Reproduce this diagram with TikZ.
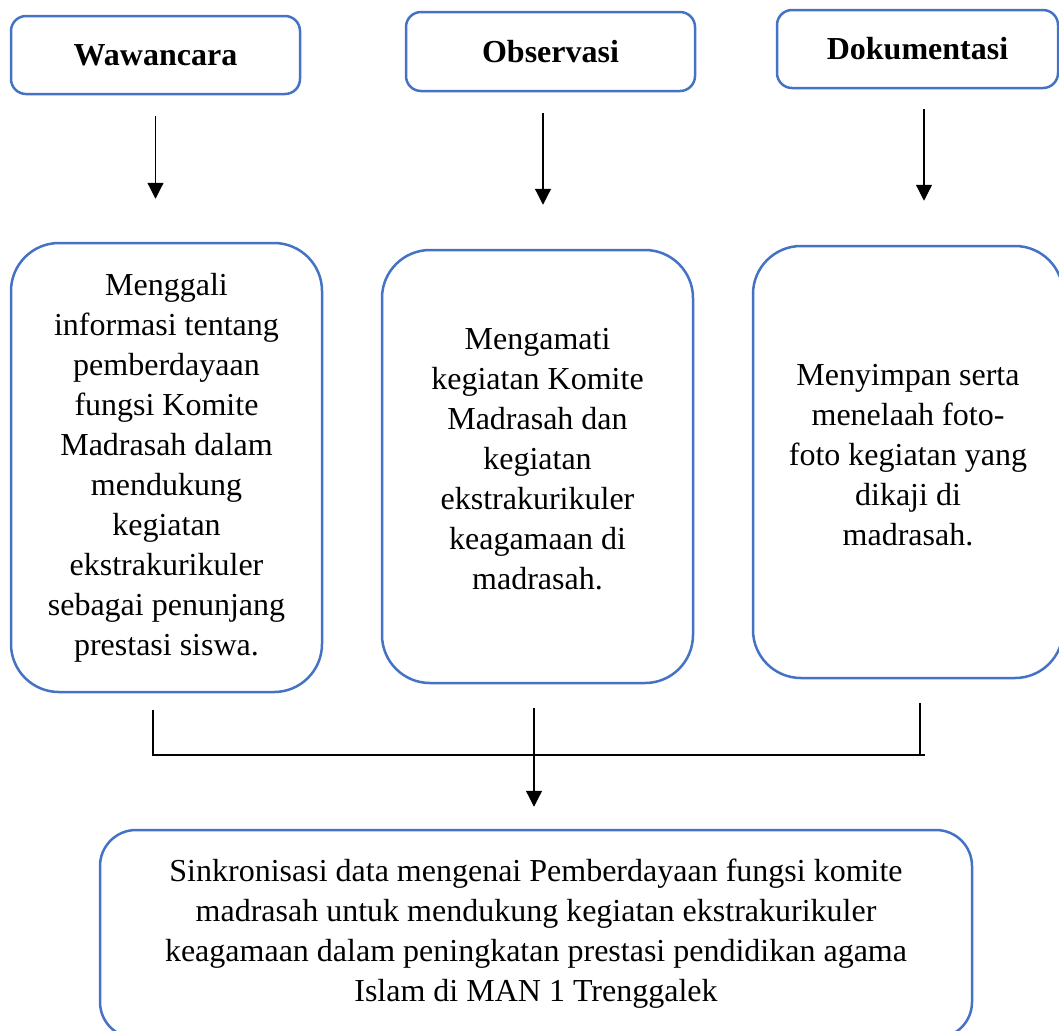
\documentclass[tikz,border=0pt]{standalone}
\usepackage{fontspec}
\setmainfont{Liberation Serif}
\usetikzlibrary{arrows.meta}
\definecolor{boxblue}{HTML}{4472C4}
% invisible strut that deepens the last line, lifting a centred block
\newcommand{\liftblock}[1]{\rule[-#1]{0pt}{#1}}
\begin{document}
\begin{tikzpicture}[x=0.5pt,y=-0.5pt,
  font=\fontsize{16pt}{20pt}\selectfont,
  headbox/.style={draw=boxblue,line width=1.25pt,rounded corners=7.5pt,
    font=\fontsize{16pt}{20pt}\selectfont\bfseries,inner sep=0pt},
  bodybox/.style={draw=boxblue,line width=1.25pt,rounded corners=24pt,
    align=center,inner sep=0pt},
  flow/.style={-{Triangle[length=8pt,width=8pt]},line width=0.6pt},
  joint/.style={line width=0.6pt}]
\useasboundingbox (0,0) rectangle (1059,1030);

% method headings
\node[headbox,minimum width=144.5pt,minimum height=39pt] (w) at (155.5,55) {Wawancara};
\node[headbox,minimum width=144.5pt,minimum height=39.5pt] (o) at (550.5,51.5) {Observasi};
\node[headbox,minimum width=140.5pt,minimum height=39pt] (d) at (917.5,49) {Dokumentasi};

% descriptions
\node[bodybox,minimum width=155.5pt,minimum height=224.5pt] (m1) at (166.5,467.5)
  {Menggali\\informasi tentang\\pemberdayaan\\fungsi Komite\\Madrasah dalam\\mendukung\\kegiatan\\ekstrakurikuler\\sebagai penunjang\\prestasi siswa.};
\node[bodybox,minimum width=155.5pt,minimum height=216.5pt] (m2) at (537.5,466.5)
  {Mengamati\\kegiatan Komite\\Madrasah dan\\kegiatan\\ekstrakurikuler\\keagamaan di\\madrasah.\liftblock{8pt}};
\node[bodybox,minimum width=155pt,minimum height=216pt] (m3) at (908,462)
  {Menyimpan serta\\menelaah foto-\\foto kegiatan yang\\dikaji di\\madrasah.\liftblock{7pt}};

% synthesis
\node[bodybox,rounded corners=18pt,minimum width=436pt,minimum height=104pt] (s) at (536,934)
  {Sinkronisasi data mengenai Pemberdayaan fungsi komite\\madrasah untuk mendukung kegiatan ekstrakurikuler\\keagamaan dalam peningkatan prestasi pendidikan agama\\Islam di MAN 1 Trenggalek};

% heading arrows
\draw[flow,shorten <=10.5pt,shorten >=21.5pt] (w.south) -- (w.south |- m1.north);
\draw[flow,shorten <=10.5pt,shorten >=22pt] ([xshift=-3.75pt]o.south) -- ([xshift=-3.75pt]o.south |- m2.north);
\draw[flow,shorten <=10pt,shorten >=22pt] ([xshift=3.25pt]d.south) -- ([xshift=3.25pt]d.south |- m3.north);

% joining bar
\coordinate (jl) at (153,755);
\coordinate (jm) at (534,755);
\coordinate (jr) at (920,755);
\draw[joint,shorten <=8.5pt] (m1.south -| jl) -- (jl);
\draw[joint,shorten <=12pt] (m3.south -| jr) -- (jr);
\draw[line width=0.85pt] ([xshift=-0.5pt]jl) -- ([xshift=2.5pt]jr);
\draw[flow,shorten <=12pt,shorten >=11pt] (m2.south -| jm) -- (s.north -| jm);
\end{tikzpicture}
\end{document}
